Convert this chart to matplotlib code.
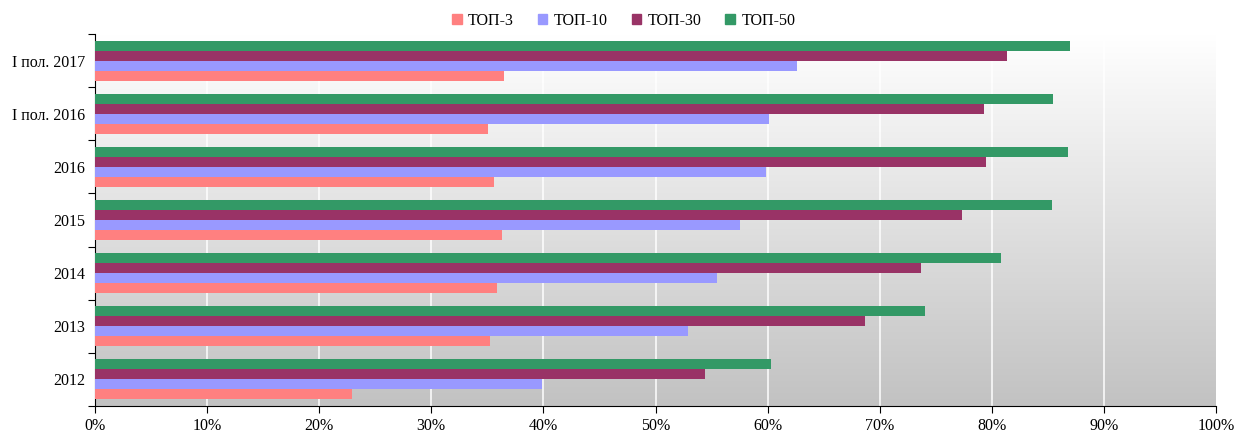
import numpy as np
import matplotlib.pyplot as plt
from matplotlib.patches import Patch

plt.rcParams['font.family'] = ['Liberation Serif', 'DejaVu Serif']

categories = ['2012', '2013', '2014', '2015', '2016', 'I пол. 2016', 'I пол. 2017']
top3 = [22.9, 35.2, 35.9, 36.3, 35.6, 35.1, 36.5]
top10 = [39.9, 52.9, 55.5, 57.5, 59.9, 60.1, 62.6]
top30 = [54.4, 68.7, 73.7, 77.3, 79.5, 79.3, 81.4]
top50 = [60.3, 74.0, 80.8, 85.4, 86.8, 85.5, 87.0]

series = [('ТОП-3', top3, '#FF8080'),
          ('ТОП-10', top10, '#9999FF'),
          ('ТОП-30', top30, '#993366'),
          ('ТОП-50', top50, '#339966')]

fig = plt.figure(figsize=(12.35, 4.37), dpi=100)
ax = fig.add_axes([95/1235, 31/437, 1121/1235, 372/437])

n = len(categories)
y = np.arange(n)
h = 0.188

# background gradient
grad = np.linspace(1, 0, 256).reshape(-1, 1)
ax.imshow(grad, extent=[0, 100, -0.5, n - 0.5], aspect='auto',
          cmap=plt.matplotlib.colors.LinearSegmentedColormap.from_list('g', ['#C2C2C2', '#FFFFFF']),
          zorder=0, origin='upper')

for i, (name, vals, col) in enumerate(series):
    ax.barh(y + (i - 1.5) * h, vals, height=h, color=col, label=name, zorder=3)

ax.set_xlim(0, 100)
ax.set_ylim(-0.5, n - 0.5)
ax.set_xticks(np.arange(0, 101, 10))
ax.set_xticklabels([f'{v}%' for v in range(0, 101, 10)], fontsize=11.5)
for v in range(10, 100, 10):
    ax.axvline(v, color='white', lw=1.2, alpha=0.9, zorder=1)

ax.set_yticks(np.arange(-0.5, n, 1))
ax.set_yticklabels([])
ax.set_yticks(y, minor=True)
ax.set_yticklabels(categories, minor=True, fontsize=11.5)
ax.tick_params(axis='y', which='minor', length=0, pad=7)
ax.tick_params(axis='y', which='major', length=5, direction='out')
ax.tick_params(axis='x', length=5, direction='out', pad=4)

for s in ['top', 'right']:
    ax.spines[s].set_visible(False)

handles = [Patch(color=c, label=nm) for nm, _, c in series]
fig.legend(handles=handles, loc='center', bbox_to_anchor=(0.505, 0.952), ncol=4,
           frameon=False, fontsize=11.5, handlelength=0.6, handleheight=0.6,
           columnspacing=1.5, handletextpad=0.4)

fig.savefig('out.png', dpi=100)
